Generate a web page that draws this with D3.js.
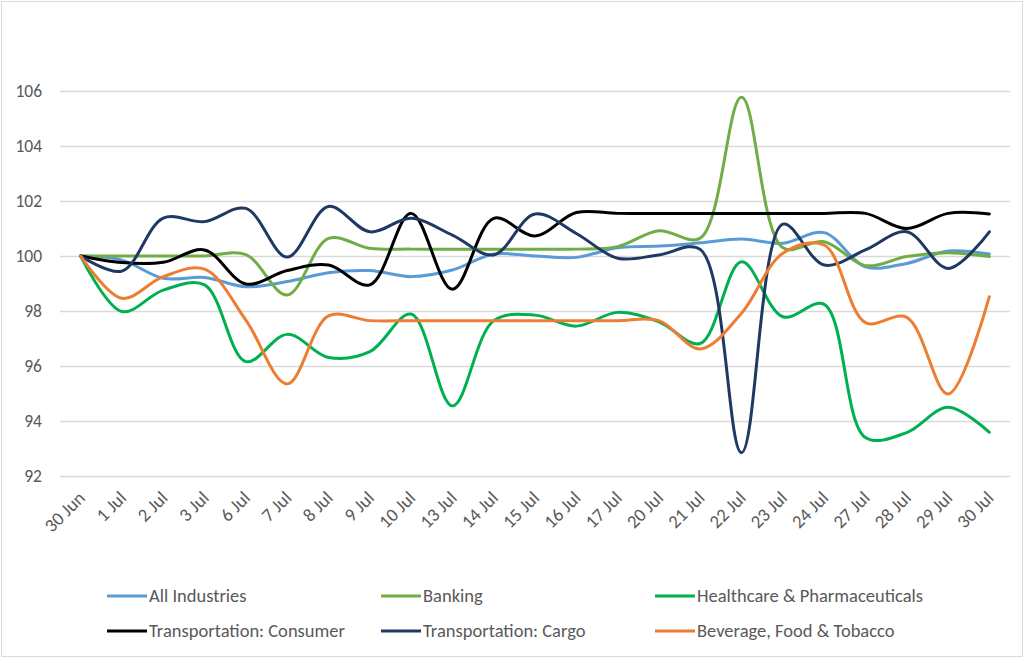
<!DOCTYPE html>
<html>
<head>
<meta charset="utf-8">
<script src="https://cdn.jsdelivr.net/npm/d3@7"></script>
<style>
  body { margin: 0; background: #fff; }
  .tick text { fill: #595959; font-family: Carlito, "Liberation Sans Narrow", Roboto, sans-serif; }
  .legend-label { fill: #595959; font-family: Carlito, "Liberation Sans Narrow", Roboto, sans-serif; font-size: 18.5px; }
</style>
</head>
<body>
<div id="chart"></div>
<script>
// dates on the x axis
const dates = ["30 Jun", "1 Jul", "2 Jul", "3 Jul", "6 Jul", "7 Jul", "8 Jul", "9 Jul", "10 Jul",
  "13 Jul", "14 Jul", "15 Jul", "16 Jul", "17 Jul", "20 Jul", "21 Jul", "22 Jul", "23 Jul",
  "24 Jul", "27 Jul", "28 Jul", "29 Jul", "30 Jul"];

const yTicks = [92, 94, 96, 98, 100, 102, 104, 106];

// index values (30 Jun = 100)
const allIndustries = [100, 99.85, 99.19, 99.22, 98.88, 99.07, 99.39, 99.47, 99.25, 99.49, 100.07,
  100.0, 99.95, 100.3, 100.36, 100.48, 100.62, 100.46, 100.85, 99.61, 99.73, 100.18, 100.07];
const banking = [100, 100, 100, 100, 100.05, 98.58, 100.64, 100.28, 100.25, 100.25, 100.25,
  100.25, 100.25, 100.34, 100.92, 100.65, 105.77, 100.3, 100.52, 99.65, 99.98, 100.12, 99.98];
const healthcare = [100, 97.98, 98.76, 98.95, 96.16, 97.15, 96.31, 96.52, 97.89, 94.55, 97.65,
  97.85, 97.45, 97.95, 97.61, 96.82, 99.79, 97.79, 98.24, 93.4, 93.58, 94.5, 93.59];
const transConsumer = [100, 99.76, 99.77, 100.22, 98.98, 99.47, 99.67, 98.95, 101.55, 98.79, 101.37,
  100.73, 101.58, 101.55, 101.55, 101.55, 101.55, 101.55, 101.55, 101.55, 101.0, 101.55, 101.53];
const transCargo = [100, 99.45, 101.38, 101.25, 101.73, 99.96, 101.8, 100.88, 101.37, 100.76, 100.04,
  101.53, 100.82, 99.92, 100.04, 100.24, 92.85, 101.16, 99.67, 100.22, 100.88, 99.55, 100.88];
const beverage = [100, 98.46, 99.25, 99.52, 97.67, 95.35, 97.82, 97.65, 97.65, 97.65, 97.65,
  97.65, 97.65, 97.65, 97.65, 96.62, 97.92, 100.1, 100.4, 97.58, 97.77, 94.98, 98.52];

const series = [
  { name: "All Industries", color: "#5b9bd5", values: allIndustries },
  { name: "Banking", color: "#70ad47", values: banking },
  { name: "Healthcare & Pharmaceuticals", color: "#00b050", values: healthcare },
  { name: "Transportation: Consumer", color: "#000000", values: transConsumer },
  { name: "Transportation: Cargo", color: "#203864", values: transCargo },
  { name: "Beverage, Food & Tobacco", color: "#ed7d31", values: beverage },
];

const W = 1024, H = 658;
const margin = { top: 91, right: 14, bottom: 182, left: 60 };
const width = W - margin.left - margin.right;
const height = H - margin.top - margin.bottom;

const root = d3.select("#chart").append("svg")
  .attr("width", W)
  .attr("height", H);

// chart border
root.append("rect")
  .attr("x", 1.5).attr("y", 1.5)
  .attr("width", W - 3).attr("height", H - 3)
  .attr("fill", "#fff")
  .attr("stroke", "#d9d9d9");

const svg = root.append("g")
  .attr("transform", `translate(${margin.left},${margin.top})`);

const x = d3.scalePoint().domain(dates).range([0, width]).padding(0.5);
const y = d3.scaleLinear().domain([92, 106]).range([height, 0]);

// y axis + grid
const yAxis = svg.append("g")
  .call(d3.axisLeft(y).tickValues(yTicks).tickSize(-width).tickPadding(18));
yAxis.select(".domain").remove();
yAxis.selectAll(".tick line").attr("stroke", "#d9d9d9").attr("stroke-width", 1.3);
yAxis.selectAll(".tick text").attr("font-size", 17.5);

// x axis labels
const xAxis = svg.append("g")
  .attr("transform", `translate(0,${height})`)
  .call(d3.axisBottom(x).tickSize(0));
xAxis.select(".domain").remove();
xAxis.selectAll(".tick text")
  .attr("font-size", 18.5)
  .attr("text-anchor", "end")
  .attr("x", 0).attr("y", 0).attr("dy", 0)
  .attr("transform", "translate(5,23) rotate(-45)");

// smoothed lines
const line = d3.line()
  .x((d, i) => x(dates[i]))
  .y((d) => y(d))
  .curve(d3.curveCatmullRom.alpha(0.5));

svg.selectAll(".series")
  .data(series)
  .enter()
  .append("path")
  .attr("class", "series")
  .attr("fill", "none")
  .attr("stroke", (d) => d.color)
  .attr("stroke-width", 3)
  .attr("stroke-linejoin", "round")
  .attr("stroke-linecap", "round")
  .attr("d", (d) => line(d.values));

// legend, 3 columns x 2 rows
const legCols = [107, 381, 655];
const legRows = [596, 631];
const legend = root.selectAll(".legend")
  .data(series)
  .enter()
  .append("g")
  .attr("class", "legend")
  .attr("transform", (d, i) => `translate(${legCols[i % 3]},${legRows[Math.floor(i / 3)]})`);

legend.append("line")
  .attr("x1", 0).attr("x2", 40)
  .attr("stroke", (d) => d.color)
  .attr("stroke-width", 3);

legend.append("text")
  .attr("class", "legend-label")
  .attr("x", 42)
  .attr("dy", "0.35em")
  .text((d) => d.name);
</script>
</body>
</html>
